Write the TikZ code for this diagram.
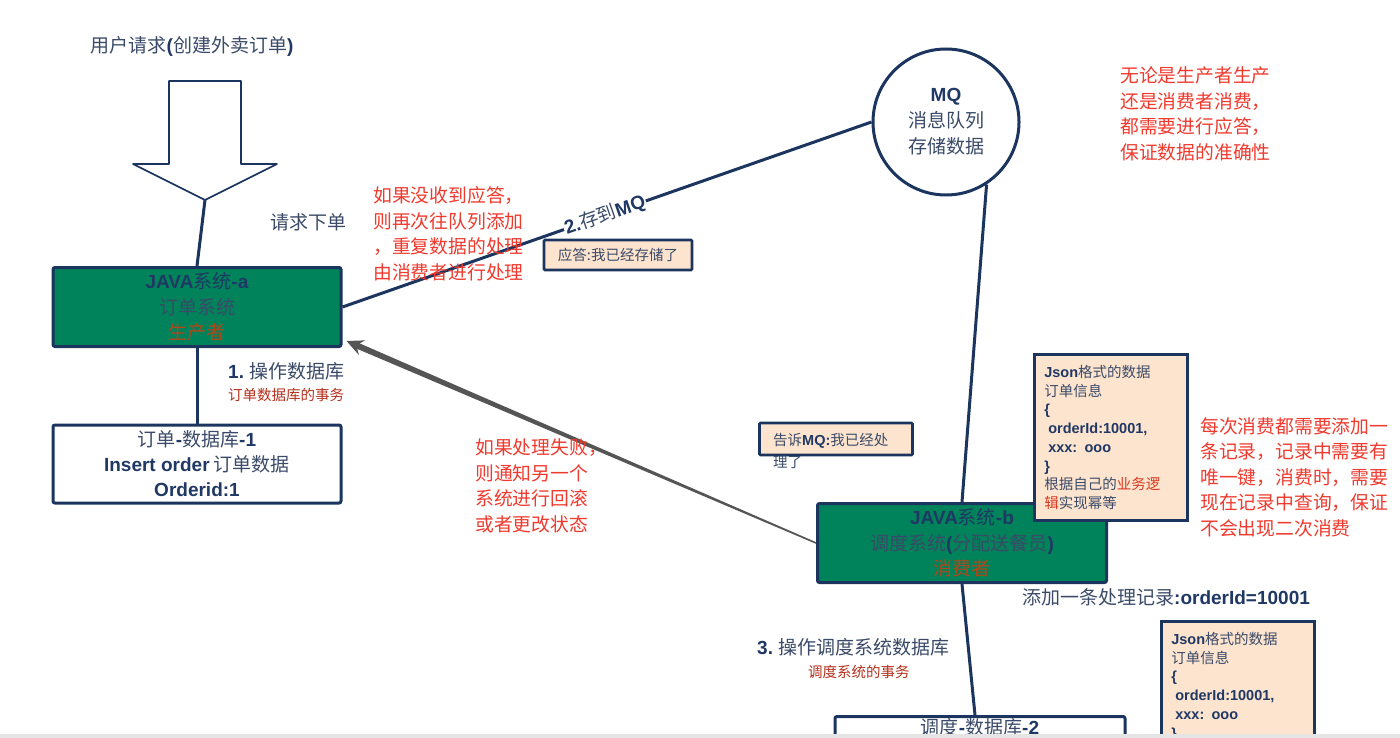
\documentclass[tikz,border=0pt]{standalone}
\usepackage{fontspec}
\setmainfont{Noto Sans CJK SC}
\newfontfamily\lib{Liberation Sans}
\usetikzlibrary{calc}
\definecolor{navy}{HTML}{1B355F}
\definecolor{tblue}{HTML}{3A4A68}
\definecolor{bnavy}{HTML}{1F3864}
\definecolor{jgreen}{HTML}{00825A}
\definecolor{peach}{HTML}{FDE4CF}
\definecolor{rtext}{HTML}{F03A2E}
\definecolor{drtext}{HTML}{B3301C}
\definecolor{prodcol}{HTML}{B4461A}
\definecolor{jred}{HTML}{D8381E}
\definecolor{arrgray}{HTML}{555555}
\newcommand\bl[1]{{\lib\bfseries\color{bnavy}#1}}
\newcommand\fs[2]{\fontsize{#1}{#2}\selectfont}
\newcommand\deep{\rule[-40pt]{0pt}{40pt}}
\tikzset{
  sysbox/.style={draw=navy, line width=3pt, fill=jgreen, minimum width=288pt, minimum height=79pt,
    align=center, inner sep=0pt, rounded corners=2pt, font=\fs{19}{25.5}, text=tblue},
  dbbox/.style={draw=navy, line width=3pt, fill=white, minimum width=288pt, align=center,
    rounded corners=2pt, font=\fs{19}{25}, text=tblue},
  note/.style={draw=navy, line width=2.8pt, fill=peach, rounded corners=1pt, font=\fs{14.5}{20}, text=tblue},
  jsonbox/.style={draw=navy, line width=2.6pt, fill=peach, text width=133pt, inner xsep=10pt,
    inner ysep=11pt, align=left, font=\fs{14.5}{18.7}, text=tblue},
  conn/.style={draw=navy, line width=3pt},
  plain/.style={inner sep=0pt, font=\fs{19}{25.5}, text=tblue, align=left},
  small/.style={inner sep=0pt, font=\fs{14.5}{20}, text=drtext, align=left},
  redtxt/.style={inner sep=0pt, font=\fs{18.8}{25.5}, text=rtext, align=left},
}
\begin{document}
\begin{tikzpicture}[x=1pt,y=-1pt]
\useasboundingbox (0,0) rectangle (1400,738);
\clip (0,0) rectangle (1400,738);
\fill[white] (0,0) rectangle (1400,738);

% user request + hollow arrow
\node[plain] (req) at (192,46) {用户请求\bl{(}创建外卖订单\bl{)}};
\draw[navy, line width=1.6pt, fill=white, line join=round]
  (169,81) -- (241,81) -- (241,164) -- (277,164) -- (205,200) -- (133,164) -- (169,164) -- cycle;
\coordinate (arrtip) at (205,200);

% system a
\node[sysbox] (a) at (197,307) {\bl{JAVA}{\color{bnavy}系统}\bl{-a}\\ 订单系统\\ {\color{prodcol}生产者}};
\draw[conn] (arrtip) -- (a.north);
\node[plain, anchor=west] (order) at (270,222) {请求下单};

% db 1
\node[dbbox, minimum height=78pt] (db1) at (197,464) {订单\bl{-}数据库\bl{-1}\\ \bl{Insert order} 订单数据\\ \bl{Orderid:1}};
\draw[conn] (a.south) -- (db1.north);
\node[plain, anchor=west] (op1) at (228,371) {\bl{1.} 操作数据库};
\node[small, anchor=west] (tx1) at (228,395) {订单数据库的事务};

% MQ
\node[circle, draw=navy, line width=3pt, fill=white, minimum size=146pt, inner sep=0pt,
  align=center, font=\fs{19}{26}, text=tblue] (mq) at (946,122) {\bl{MQ}\\ 消息队列\\ 存储数据};
\draw[conn] (a.east) -- node[sloped, fill=white, inner sep=1pt, pos=0.496, font=\fs{19}{22}, text=tblue] (lab2) {\bl{2.}存到\bl{MQ}} (mq.west);

\node[redtxt, anchor=west] (retry) at (373,234) {如果没收到应答，\\则再次往队列添加\\，重复数据的处理\\由消费者进行处理};
\node[note, minimum width=148pt, minimum height=30pt, inner sep=0pt] (ack) at (618,255) {应答:我已经存储了};
\node[redtxt, anchor=west] (ackall) at (1120,114) {无论是生产者生产\\还是消费者消费，\\都需要进行应答，\\保证数据的准确性};

% system b
\node[sysbox, minimum width=289pt] (b) at (962,543) {\bl{JAVA}{\color{bnavy}系统}\bl{-b}\\ 调度系统\bl{(}分配送餐员\bl{)}\\ {\color{prodcol}消费者}};
\draw[conn] (mq.-57) -- (b.north);

% json 1
\node[jsonbox, anchor=north west] (j1) at (1033,353) {\bl{Json}格式的数据\\订单信息\\\bl{\{}\\\hspace*{4pt}\bl{orderId:10001,}\\\hspace*{4pt}\bl{xxx: ooo}\\\bl{\}}\\根据自己的{\color{jred}业务逻}\\{\color{jred}辑}实现幂等};

% tell MQ note
\node[note, minimum width=153pt, minimum height=32pt, inner sep=0pt] (tell) at (836,439) {};
\node[inner sep=0pt, anchor=west, align=left, font=\fs{14.5}{22}, text=tblue] (telltext) at (773,451) {告诉\bl{MQ:}我已经处\\理了};

\node[redtxt, anchor=west] (unique) at (1200,477) {每次消费都需要添加一\\条记录，记录中需要有\\唯一键，消费时，需要\\现在记录中查询，保证\\不会出现二次消费};

% rollback arrow
\coordinate (t) at (b.west);
\coordinate (h) at ($(a.south east)+(4,-7)$);
\fill[arrgray]
  ($(t)!0.8pt!90:(h)$) --
  ($($(h)!13pt!(t)$)!3pt!-90:(t)$) --
  ($($(h)!17pt!(t)$)!8pt!-90:(t)$) --
  (h) --
  ($($(h)!17pt!(t)$)!8pt!90:(t)$) --
  ($($(h)!13pt!(t)$)!3pt!90:(t)$) --
  ($(t)!0.8pt!-90:(h)$) -- cycle;
\node[redtxt, anchor=west] (fail) at (475,486) {如果处理失败，\\则通知另一个\\系统进行回滚\\或者更改状态};

% record + db 2
\node[plain, anchor=west] (rec) at (1022,597) {添加一条处理记录\bl{:orderId=10001}};
\node[plain, anchor=west] (op3) at (757,647) {\bl{3.} 操作调度系统数据库};
\node[small, anchor=west] (tx3) at (808,672) {调度系统的事务};
\node[dbbox, minimum width=290pt, anchor=north, inner ysep=2pt] (db2) at (980,715) {调度\bl{-}数据库\bl{-2}\deep};
\draw[conn] (b.south) -- ($(db2.north)+(-5,0)$);

% json 2
\node[jsonbox, anchor=north west] (j2) at (1160,620) {\bl{Json}格式的数据\\订单信息\\\bl{\{}\\\hspace*{4pt}\bl{orderId:10001,}\\\hspace*{4pt}\bl{xxx: ooo}\\\bl{\}}\deep};

\fill[black!10] (0,734) rectangle (1400,738);
\end{tikzpicture}
\end{document}
